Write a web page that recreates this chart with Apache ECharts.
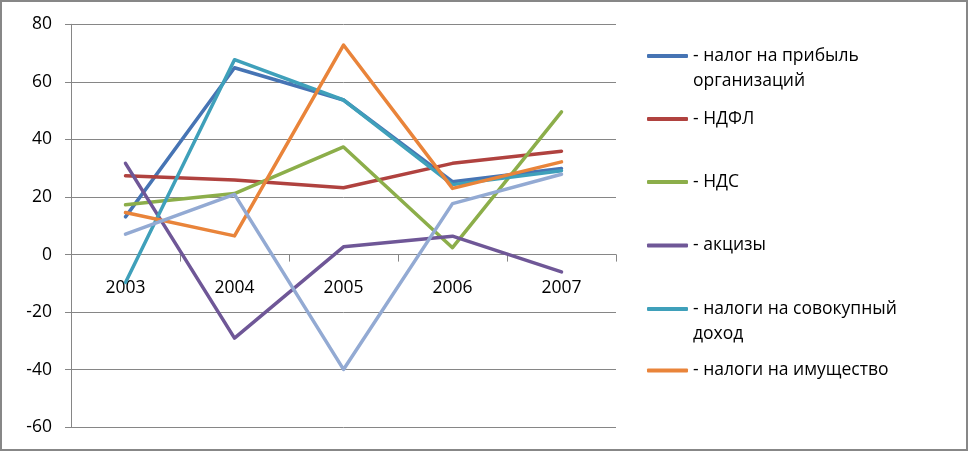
<!DOCTYPE html>
<html>
<head>
<meta charset="utf-8">
<script src="https://cdn.jsdelivr.net/npm/echarts@6/dist/echarts.min.js"></script>
<style>
html,body{margin:0;padding:0;background:#fff;}
#c{width:968px;height:451px;}
</style>
</head>
<body>
<div id="c"></div>
<script>
var years = ['2003', '2004', '2005', '2006', '2007'];
var profitTax = [13.1, 64.9, 53.7, 25.3, 29.9];
var ndfl = [27.4, 25.9, 23.2, 31.7, 35.9];
var nds = [17.3, 21.2, 37.4, 2.4, 49.6];
var excise = [31.7, -29.0, 2.7, 6.4, -6.0];
var aggregateIncome = [-9.7, 67.7, 53.7, 24.3, 29.1];
var propertyTax = [14.6, 6.5, 72.8, 23.0, 32.2];
var otherTax = [7.1, 20.9, -39.9, 17.7, 27.9];
var yTicks = { min: -60, max: 80, step: 20 };

var names = ['- налог на прибыль организаций', '- НДФЛ', '- НДС', '- акцизы',
  '- налоги на совокупный доход', '- налоги на имущество', 'прочие'];
var legendLabels = ['\n- налог на прибыль\nорганизаций', '- НДФЛ', '- НДС', '- акцизы',
  '\n- налоги на совокупный\nдоход', '- налоги на имущество'];
var colors = ['#4674B4', '#B0423F', '#8CAE4A', '#6F5797', '#3FA0BA', '#E9843A', '#93AAD3'];
var values = [profitTax, ndfl, nds, excise, aggregateIncome, propertyTax, otherTax];
var legendCenters = [56, 119, 182, 245.5, 309, 370.5];

var font = 'Open Sans';
var lh = 25;
var gridTop = 24.3, gridBottom = 23.7, H = 451;
var plotH = H - gridTop - gridBottom;
var zeroOffset = plotH * (0 - yTicks.min) / (yTicks.max - yTicks.min);

var chart = echarts.init(document.getElementById('c'));

var legends = [];
for (var i = 0; i < 6; i++) {
  var lines = legendLabels[i].split('\n').length;
  (function (idx) {
    legends.push({
      orient: 'vertical',
      left: 647,
      top: legendCenters[idx] - lines * lh / 2,
      padding: 0,
      itemWidth: 41,
      itemHeight: 4,
      icon: 'roundRect',
      selectedMode: false,
      data: [names[idx]],
      formatter: function () { return legendLabels[idx]; },
      textStyle: { fontFamily: font, fontSize: 17.5, color: '#000', lineHeight: lh }
    });
  })(i);
}

var series = [];
for (var j = 0; j < values.length; j++) {
  series.push({
    name: names[j],
    type: 'line',
    data: values[j],
    symbol: 'none',
    smooth: false,
    itemStyle: { color: colors[j] },
    lineStyle: { color: colors[j], width: 3.5, cap: 'round', join: 'round' },
    z: 2 + j
  });
}

chart.setOption({
  animation: false,
  backgroundColor: '#fff',
  graphic: [{
    type: 'rect',
    shape: { x: 1, y: 1, width: 966, height: 449 },
    style: { fill: 'none', stroke: '#878787', lineWidth: 2 },
    silent: true
  }],
  legend: legends,
  grid: { left: 71, right: 352, top: gridTop, bottom: gridBottom, containLabel: false, outerBoundsMode: 'none' },
  xAxis: {
    type: 'category',
    data: years,
    position: 'bottom',
    offset: -zeroOffset,
    boundaryGap: true,
    axisLine: { onZero: false, lineStyle: { color: '#868686', width: 1 } },
    axisTick: { show: true, length: 7, lineStyle: { color: '#868686' } },
    axisLabel: { show: true, margin: 24, fontFamily: font, fontSize: 17.5, color: '#000' },
    splitLine: { show: false }
  },
  yAxis: {
    type: 'value',
    min: yTicks.min,
    max: yTicks.max,
    interval: yTicks.step,
    axisLine: { show: true, lineStyle: { color: '#868686', width: 1 } },
    axisTick: { show: true, length: 6, lineStyle: { color: '#868686' } },
    axisLabel: { margin: 19, fontFamily: font, fontSize: 17.5, color: '#000' },
    splitLine: { show: true, lineStyle: { color: '#868686', width: 1 } }
  },
  series: series
});
</script>
</body>
</html>
